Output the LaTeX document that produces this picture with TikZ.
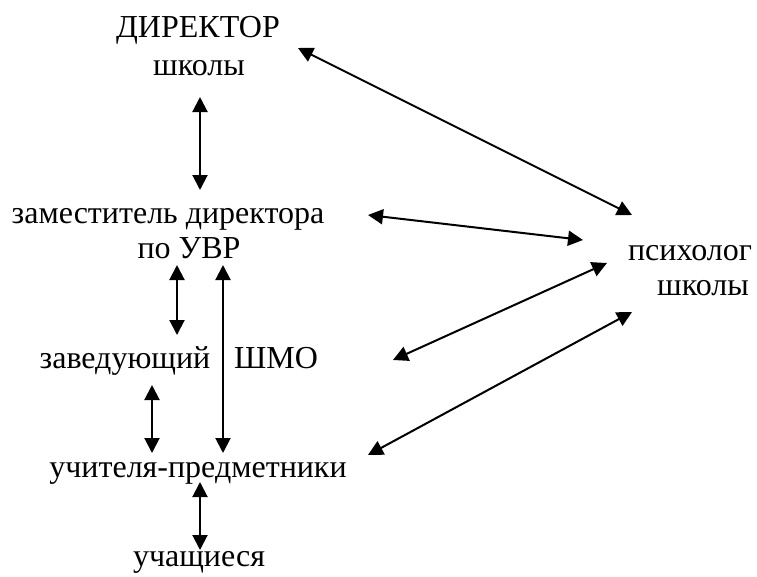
\documentclass[tikz,border=0pt]{standalone}
\usepackage{fontspec}
\setmainfont{Liberation Serif}
\usetikzlibrary{arrows.meta}
\tikzset{
  lbl/.style={anchor=base, inner sep=0pt, font=\fontsize{32}{38}\selectfont},
  link/.style={line width=2pt, {Triangle[length=15pt,width=15pt]}-{Triangle[length=15pt,width=15pt]}}
}
\begin{document}
\begin{tikzpicture}[x=1pt,y=-1pt]
\useasboundingbox[fill=white] (0,0) rectangle (757,576);
% texts
\node[lbl] (dir1) at (198,37) {ДИРЕКТОР};
\node[lbl] (dir2) at (199,75) {школы};
\node[lbl] (zam1) at (168,223) {заместитель директора};
\node[lbl] (zam2) at (189,258) {по УВР};
\node[lbl] (zav) at (125,368) {заведующий};
\node[lbl] (shmo) at (276,368) {ШМО};
\node[lbl] (uch) at (198,477) {учителя-предметники};
\node[lbl] (stud) at (199,566) {учащиеся};
\node[lbl] (psy1) at (690,260) {психолог};
\node[lbl] (psy2) at (703,295) {школы};
% connector ends
\coordinate (a1) at (200,97);  \coordinate (a2) at (200,190);
\coordinate (b1) at (177,265); \coordinate (b2) at (177,335);
\coordinate (c1) at (223,265); \coordinate (c2) at (223,453);
\coordinate (d1) at (152,385); \coordinate (d2) at (152,453);
\coordinate (e1) at (200,482); \coordinate (e2) at (200,550);
\coordinate (f1) at (298,48);  \coordinate (f2) at (632,215);
\coordinate (g1) at (368,215); \coordinate (g2) at (583,240);
\coordinate (h1) at (393,360); \coordinate (h2) at (607,263);
\coordinate (i1) at (368,455); \coordinate (i2) at (632,312);
% connectors
\draw[link] (a1) -- (a2);
\draw[link] (b1) -- (b2);
\draw[link] (c1) -- (c2);
\draw[link] (d1) -- (d2);
\draw[link] (e1) -- (e2);
\draw[link] (f1) -- (f2);
\draw[link] (g1) -- (g2);
\draw[link] (h1) -- (h2);
\draw[link] (i1) -- (i2);
\end{tikzpicture}
\end{document}
